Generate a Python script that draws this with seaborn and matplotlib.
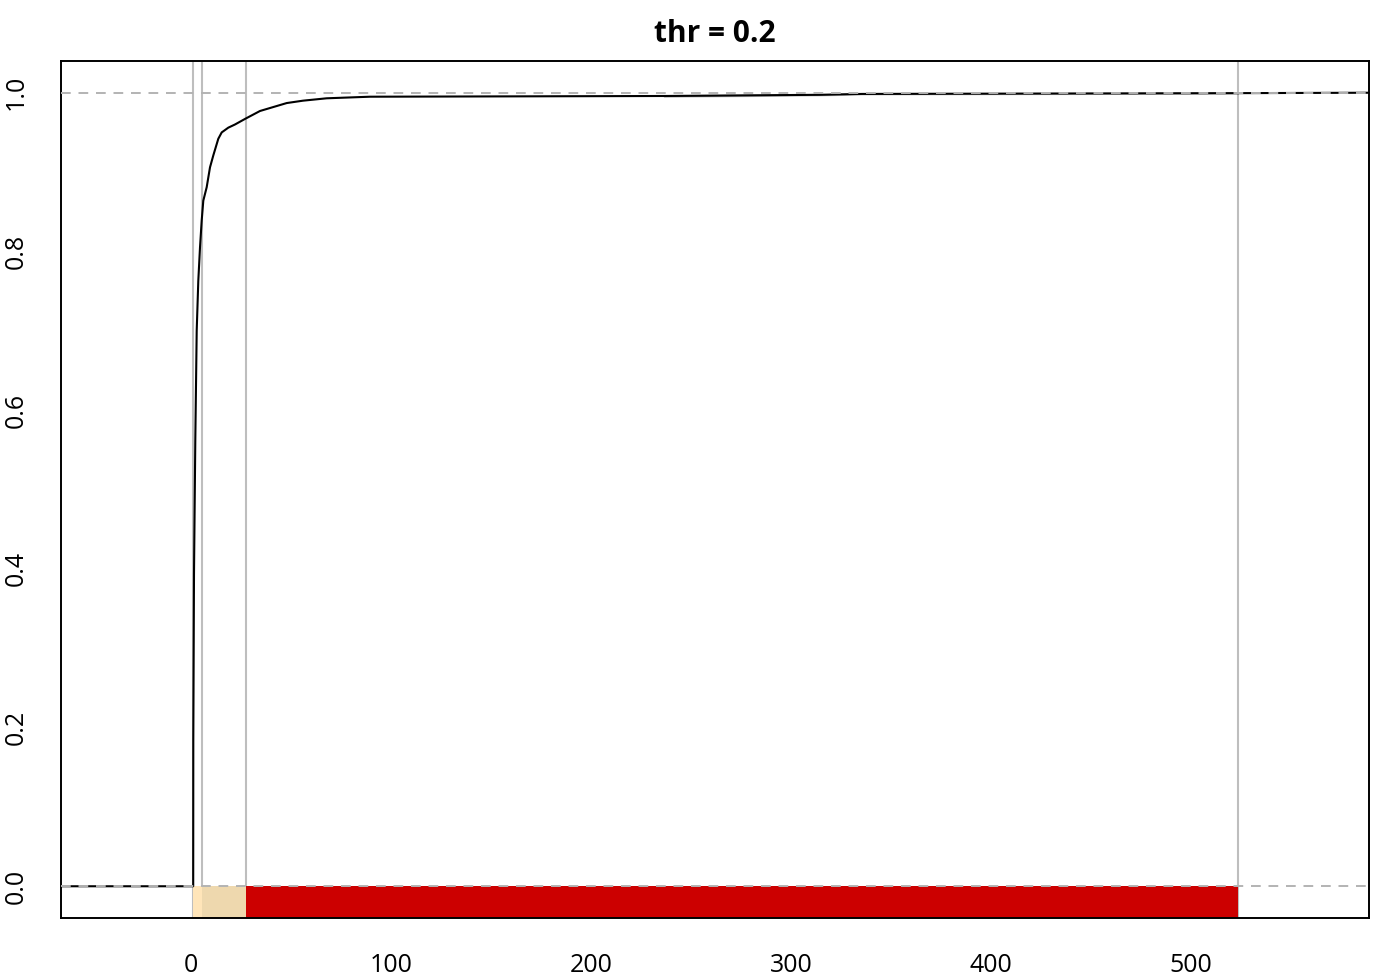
import matplotlib
matplotlib.use("Agg")
import matplotlib.pyplot as plt
import seaborn as sns
import pandas as pd

# ECDF points (x = value, y = cumulative share);
# flat tail pieces are given as step corners
ecdf_x = [1.1, 1.15, 1.5, 2.15, 2.85, 3.65, 4.5, 5.35, 6.15, 7.85, 9.5, 11.15,
          13.65, 15.35, 18.65, 22.0, 27.0, 34.5, 47.85, 56.0, 67.85, 89.5,
          236.5, 236.5, 314.5, 314.5, 335.5, 335.5, 523.5, 523.5]
ecdf_y = [0.0, 0.184, 0.394, 0.562, 0.700, 0.763, 0.805, 0.839, 0.864, 0.881,
          0.906, 0.921, 0.942, 0.950, 0.956, 0.960, 0.967, 0.977, 0.987, 0.990,
          0.993, 0.995, 0.995, 0.9968, 0.9968, 0.998, 0.998, 0.999, 0.999, 1.0]

# class breaks and their colours
breaks = [1.1, 5.6, 27.5, 523.5]
band_colors = ["#FFE5B9", "#EED8AE", "#CC0000"]

title = "thr = 0.2"
x_ticks = [0, 100, 200, 300, 400, 500]
y_ticks = [0.0, 0.2, 0.4, 0.6, 0.8, 1.0]
xlim = (-65, 589)
ylim = (-0.04, 1.04)

sns.set_style("white")
plt.rcParams["font.family"] = ["Open Sans", "DejaVu Sans"]

fig = plt.figure(figsize=(14, 9.8), dpi=100)
ax = fig.add_axes([61 / 1400, 1 - 918 / 980, (1369 - 61) / 1400, (918 - 61) / 980])

# vertical break lines
for b in breaks:
    ax.axvline(b, color="#BEBEBE", lw=1.5, zorder=1)

# coloured bands under the zero line
for i, c in enumerate(band_colors):
    ax.barh(y=ylim[0] / 2, width=breaks[i + 1] - breaks[i], left=breaks[i],
            height=-ylim[0], color=c, align="center", linewidth=0, zorder=2)

# ECDF curve, extended flat to both edges like plot.ecdf
curve = pd.DataFrame({
    "x": [xlim[0]] + ecdf_x + [xlim[1]],
    "y": [0.0] + ecdf_y + [1.0],
})
sns.lineplot(data=curve, x="x", y="y", sort=False, color="black", lw=1.5,
             ax=ax, zorder=3)

# reference lines at 0 and 1
for h in (0, 1):
    ax.axhline(h, color="#B3B3B3", lw=1.4, ls=(0, (5, 4)), zorder=4)

ax.set_xlim(*xlim)
ax.set_ylim(*ylim)
ax.set_xticks(x_ticks)
ax.set_yticks(y_ticks)
ax.set_xticklabels([str(t) for t in x_ticks])
ax.set_yticklabels([f"{t:.1f}" for t in y_ticks], rotation=90, va="center")
ax.tick_params(direction="out", length=11, width=1.3, colors="black",
               labelsize=18, pad=12)
ax.tick_params(axis="x", pad=14)
ax.set_xlabel("")
ax.set_ylabel("")
for s in ax.spines.values():
    s.set_color("black")
    s.set_linewidth(1.4)

ax.set_title(title, fontsize=21.5, fontweight="bold", color="black", pad=14)

fig.savefig("out.png", dpi=100)
